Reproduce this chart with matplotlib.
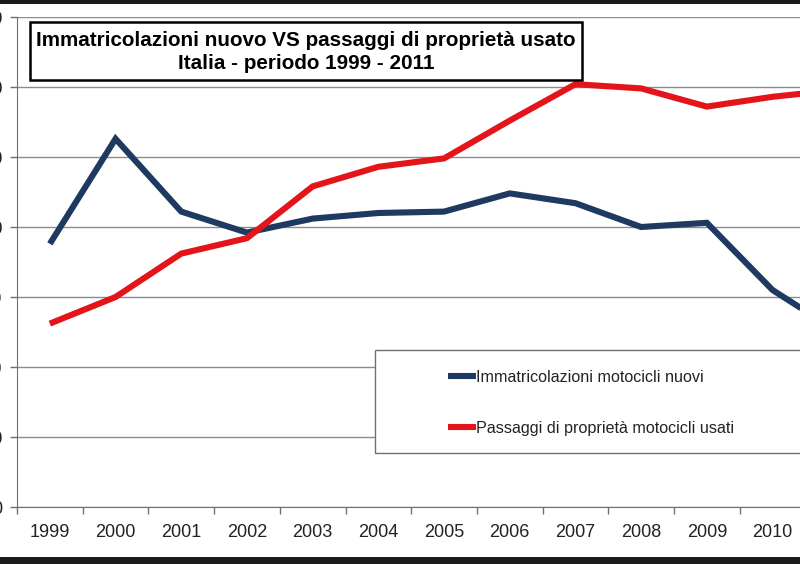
import matplotlib
matplotlib.use("Agg")
import matplotlib.pyplot as plt
from matplotlib.patches import Rectangle
from matplotlib.ticker import FixedLocator, FuncFormatter, NullFormatter

plt.rcParams['font.family'] = ['Liberation Sans', 'DejaVu Sans']

years = ['1999', '2000', '2001', '2002', '2003', '2004', '2005',
         '2006', '2007', '2008', '2009', '2010', '2011']
nuovi = [188000, 263000, 211000, 196000, 206000, 210000, 211000,
         224000, 217000, 200000, 203000, 155000, 125000]
usati = [131000, 150000, 181000, 192000, 229000, 243000, 249000,
         276000, 302000, 299000, 286000, 293000, 298000]
yticks = [0, 50000, 100000, 150000, 200000, 250000, 300000, 350000]

title_l1 = "Immatricolazioni nuovo VS passaggi di proprietà usato"
title_l2 = "Italia - periodo 1999 - 2011"
lab_nuovi = "Immatricolazioni motocicli nuovi"
lab_usati = "Passaggi di proprietà motocicli usati"

W, H = 800, 564
fig = plt.figure(figsize=(8.0, 5.64), dpi=100)
fig.patch.set_facecolor('white')

def fx(px):
    return px / W

def fy(py):
    return 1 - py / H

# axes extending beyond right edge (cropped screenshot look)
cat_w = 65.7
left_px, top_px, bot_px = 17, 17, 507
ax = fig.add_axes([fx(left_px), fy(bot_px), fx(13 * cat_w), (bot_px - top_px) / H])

x = list(range(len(years)))
blue = '#1f3a60'
red = '#e3151b'
l1, = ax.plot(x, nuovi, color=blue, lw=4.4, solid_capstyle='butt', solid_joinstyle='miter',
              label=lab_nuovi, zorder=3)
l2, = ax.plot(x, usati, color=red, lw=4.4, solid_capstyle='butt', solid_joinstyle='miter',
              label=lab_usati, zorder=3)

ax.set_xlim(-0.5, len(years) - 0.5)
ax.set_ylim(0, 350000)
ax.set_yticks(yticks)
ax.yaxis.set_major_formatter(FuncFormatter(lambda v, p: f"{int(v):,}".replace(',', '.')))
ax.grid(axis='y', color='#8c8c8c', lw=1.0, zorder=0)
ax.set_axisbelow(True)

# category axis: labels at centers, ticks at boundaries
ax.set_xticks(x)
ax.set_xticklabels(years)
ax.xaxis.set_minor_locator(FixedLocator([i - 0.5 for i in range(len(years) + 1)]))
ax.xaxis.set_minor_formatter(NullFormatter())
ax.tick_params(axis='x', which='major', length=0, pad=12, labelsize=13, labelcolor='#222222')
ax.tick_params(axis='x', which='minor', length=5, width=1, color='#707070', direction='out')
ax.tick_params(axis='y', length=5, width=1, color='#707070', pad=5.5, labelsize=13,
               labelcolor='#222222')
for s in ['top', 'right']:
    ax.spines[s].set_visible(False)
ax.spines['left'].set_color('#707070')
ax.spines['bottom'].set_color('#707070')

# title box
fig.add_artist(Rectangle((fx(30), fy(80)), fx(552), (80 - 22) / H, transform=fig.transFigure,
                         facecolor='white', edgecolor='black', lw=1.8, zorder=5))
fig.text(fx(306), fy(40), title_l1, ha='center', va='center', fontsize=14.9,
         fontweight='bold', zorder=6)
fig.text(fx(306), fy(64), title_l2, ha='center', va='center', fontsize=14.9,
         fontweight='bold', zorder=6)

# legend box (extends beyond right edge)
fig.add_artist(Rectangle((fx(375), fy(453)), fx(500), (453 - 350) / H, transform=fig.transFigure,
                         facecolor='white', edgecolor='#707070', lw=1.0, zorder=5))
leg = fig.legend(handles=[l1, l2], loc='upper left', bbox_to_anchor=(fx(433), fy(355)),
                 bbox_transform=fig.transFigure, frameon=False, fontsize=11.6,
                 handlelength=1.75, handletextpad=0.05, labelspacing=2.25)
leg.set_zorder(7)
for t in leg.get_texts():
    t.set_color('#222222')

# screenshot frame bars
fig.add_artist(Rectangle((0, fy(4)), 1, 4 / H, transform=fig.transFigure,
                         facecolor='#1a1a1a', edgecolor='none', zorder=8))
fig.add_artist(Rectangle((0, 0), 1, 7 / H, transform=fig.transFigure,
                         facecolor='#1a1a1a', edgecolor='none', zorder=8))

fig.savefig('out.png', dpi=100)
